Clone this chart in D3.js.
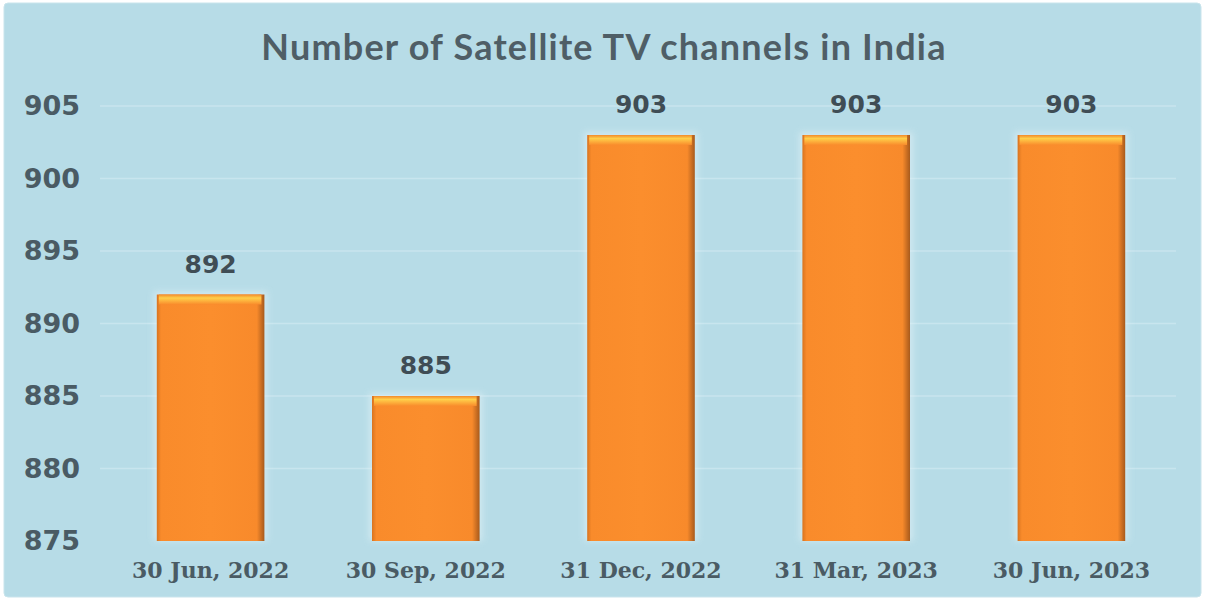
<!DOCTYPE html>
<html>
<head>
<meta charset="utf-8">
<script src="https://cdn.jsdelivr.net/npm/d3@7"></script>
<style>
  html, body { margin: 0; padding: 0; background: #ffffff; }
  svg { display: block; }
</style>
</head>
<body>
<svg id="chart" width="1207" height="599"></svg>
<script>
const categories = ["30 Jun, 2022", "30 Sep, 2022", "31 Dec, 2022", "31 Mar, 2023", "30 Jun, 2023"];
const values = [892, 885, 903, 903, 903];
const yTicks = [875, 880, 885, 890, 895, 900, 905];
const title = "Number of Satellite TV channels in India";

const svg = d3.select("#chart");
const textColor = "#4a5b64";

const defs = svg.append("defs");
const hg = defs.append("linearGradient").attr("id", "barH").attr("x1", "0").attr("x2", "1").attr("y1", "0").attr("y2", "0");
[["0%", "#d9741f"], ["4%", "#f98b2b"], ["50%", "#fb8e2d"], ["93%", "#f88a2b"], ["100%", "#a85a1c"]]
  .forEach(([o, c]) => hg.append("stop").attr("offset", o).attr("stop-color", c));
const vg = defs.append("linearGradient").attr("id", "barTop").attr("x1", "0").attr("x2", "0").attr("y1", "0").attr("y2", "1");
[["0%", "#f28a2c"], ["35%", "#ffcf4a"], ["65%", "#fdb03c"], ["100%", "#f98c2c"]]
  .forEach(([o, c]) => vg.append("stop").attr("offset", o).attr("stop-color", c));
const blur = defs.append("filter").attr("id", "glow").attr("x", "-20%").attr("y", "-20%").attr("width", "140%").attr("height", "140%");
blur.append("feGaussianBlur").attr("stdDeviation", 3);

// panel
svg.append("rect").attr("x", 4).attr("y", 3).attr("width", 1197).attr("height", 594)
  .attr("rx", 4).attr("fill", "#b7dce7").attr("stroke", "#c9e4ec").attr("stroke-width", 1);

const x = d3.scaleBand().domain(categories).range([103, 1179]).paddingInner(0.5).paddingOuter(0.25);
const y = d3.scaleLinear().domain([875, 905]).range([541, 106]);

// gridlines
svg.append("g").selectAll("line").data(yTicks.filter(t => t !== 875)).join("line")
  .attr("x1", 100).attr("x2", 1176)
  .attr("y1", d => y(d)).attr("y2", d => y(d))
  .attr("stroke", "#c8e5ee").attr("stroke-width", 1.5);

// y axis
const yAxis = svg.append("g").attr("transform", "translate(80,0)")
  .call(d3.axisLeft(y).tickValues(yTicks).tickSize(0).tickPadding(0));
yAxis.select(".domain").remove();
yAxis.selectAll("text")
  .attr("font-family", "'DejaVu Sans', Verdana, sans-serif")
  .attr("font-weight", "bold").attr("font-size", 27).attr("fill", textColor);

// x axis
const xAxis = svg.append("g").attr("transform", "translate(0,560)")
  .call(d3.axisBottom(x).tickSize(0).tickPadding(0));
xAxis.select(".domain").remove();
xAxis.selectAll("text")
  .attr("font-family", "'DejaVu Serif', serif")
  .attr("font-weight", "bold").attr("font-size", 22).attr("fill", textColor)
  .attr("dy", "0.8em");

// bars
const bars = svg.append("g").selectAll("g").data(values).join("g");
bars.append("rect")
  .attr("x", (d, i) => x(categories[i]) - 3)
  .attr("y", d => y(d) - 3)
  .attr("width", x.bandwidth() + 6)
  .attr("height", d => y(875) - y(d) + 3)
  .attr("fill", "#e4f3f7").attr("opacity", 0.55).attr("filter", "url(#glow)");
bars.append("rect")
  .attr("x", (d, i) => x(categories[i]))
  .attr("y", d => y(d))
  .attr("width", x.bandwidth())
  .attr("height", d => y(875) - y(d))
  .attr("fill", "url(#barH)");
bars.append("rect")
  .attr("x", (d, i) => x(categories[i]) + 2)
  .attr("y", d => y(d))
  .attr("width", x.bandwidth() - 5)
  .attr("height", 10)
  .attr("fill", "url(#barTop)");

// value labels
svg.append("g").selectAll("text").data(values).join("text")
  .attr("x", (d, i) => x(categories[i]) + x.bandwidth() / 2)
  .attr("y", d => y(d) - 22)
  .attr("text-anchor", "middle")
  .attr("font-family", "'DejaVu Sans', Verdana, sans-serif")
  .attr("font-weight", "bold").attr("font-size", 25).attr("fill", "#3f4d55")
  .text(d => d);

// title
svg.append("text").attr("x", 604).attr("y", 60).attr("text-anchor", "middle")
  .attr("font-family", "Lato, 'Open Sans', sans-serif")
  .attr("font-weight", "bold").attr("font-size", 36).attr("letter-spacing", 1.2)
  .attr("fill", "#4f5e66")
  .text(title);
</script>
</body>
</html>
